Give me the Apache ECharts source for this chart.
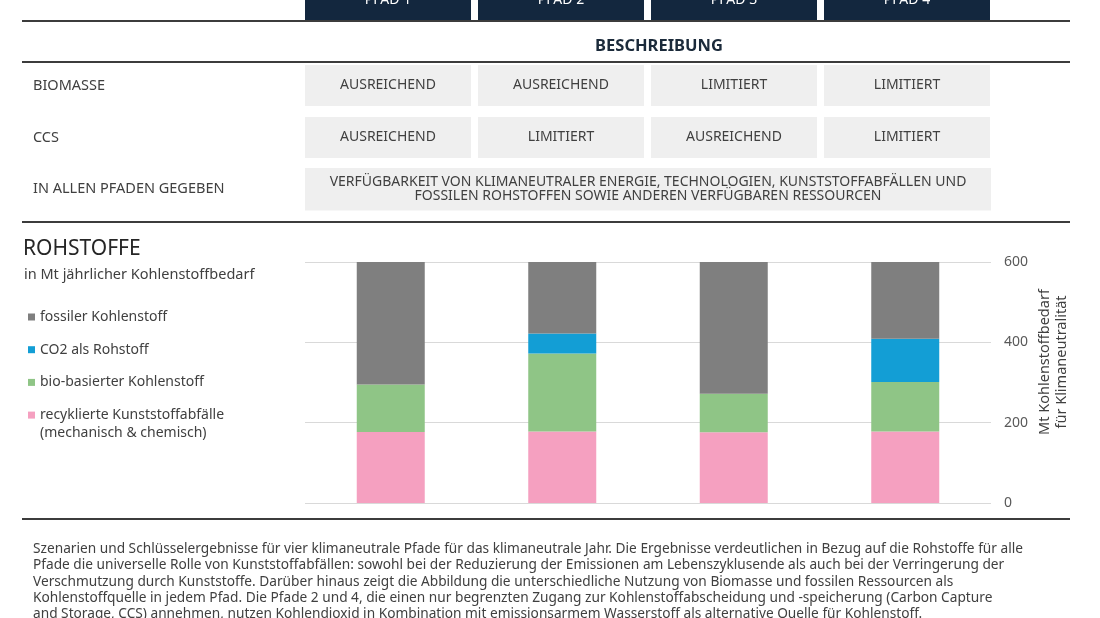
<!DOCTYPE html>
<html>
<head>
<meta charset="utf-8">
<script src="https://cdn.jsdelivr.net/npm/echarts@6/dist/echarts.min.js"></script>
<style>
  html, body { margin: 0; padding: 0; background: #fff; }
  #chart { width: 1100px; height: 618px; }
</style>
</head>
<body>
<div id="chart"></div>
<script>
// data
const pfade = ['PFAD 1', 'PFAD 2', 'PFAD 3', 'PFAD 4'];
const rowLabels = ['BIOMASSE', 'CCS', 'IN ALLEN PFADEN GEGEBEN'];
const biomasse = ['AUSREICHEND', 'AUSREICHEND', 'LIMITIERT', 'LIMITIERT'];
const ccs = ['AUSREICHEND', 'LIMITIERT', 'AUSREICHEND', 'LIMITIERT'];
const gegeben = 'VERFÜGBARKEIT VON KLIMANEUTRALER ENERGIE, TECHNOLOGIEN, KUNSTSTOFFABFÄLLEN UND\nFOSSILEN ROHSTOFFEN SOWIE ANDEREN VERFÜGBAREN RESSOURCEN';

const seriesNames = ['fossiler Kohlenstoff', 'CO2 als Rohstoff', 'bio-basierter Kohlenstoff', 'recyklierte Kunststoffabfälle\n(mechanisch & chemisch)'];
const recycled = [177, 178, 176, 178];
const bioBased = [118, 194, 96, 123];
const co2 = [0, 50, 0, 108];
const fossil = [308, 181, 331, 194];
const yTicks = [0, 200, 400, 600];

const caption = [
  'Szenarien und Schlüsselergebnisse für vier klimaneutrale Pfade für das klimaneutrale Jahr. Die Ergebnisse verdeutlichen in Bezug auf die Rohstoffe für alle',
  'Pfade die universelle Rolle von Kunststoffabfällen: sowohl bei der Reduzierung der Emissionen am Lebenszyklusende als auch bei der Verringerung der',
  'Verschmutzung durch Kunststoffe. Darüber hinaus zeigt die Abbildung die unterschiedliche Nutzung von Biomasse und fossilen Ressourcen als',
  'Kohlenstoffquelle in jedem Pfad. Die Pfade 2 und 4, die einen nur begrenzten Zugang zur Kohlenstoffabscheidung und -speicherung (Carbon Capture',
  'and Storage, CCS) annehmen, nutzen Kohlendioxid in Kombination mit emissionsarmem Wasserstoff als alternative Quelle für Kohlenstoff.'
];

const FONT = '"Noto Sans", sans-serif';
const TXT = '#404040';
const colX = [305, 478, 651, 824];
const colW = 166;

const chart = echarts.init(document.getElementById('chart'));

const graphic = [];
function hline(y) {
  graphic.push({ type: 'line', shape: { x1: 22, y1: y, x2: 1070, y2: y }, style: { stroke: '#3c3c3c', lineWidth: 2 } });
}
function label(text, x, y, opts) {
  graphic.push({
    type: 'text', x: x, y: y,
    style: Object.assign({
      text: text, fill: TXT, fontFamily: FONT, fontSize: 14,
      align: 'left', verticalAlign: 'middle', lineHeight: 14
    }, opts || {})
  });
}

// header boxes
pfade.forEach((p, i) => {
  graphic.push({ type: 'rect', shape: { x: colX[i], y: 0, width: colW, height: 20 }, style: { fill: '#13273e' } });
  label(p, colX[i] + colW / 2, 0, { fill: '#fff', align: 'center' });
});
hline(21);
label('BESCHREIBUNG', 659, 46, { fill: '#1b2a3a', fontWeight: 'bold', fontSize: 16.5, align: 'center' });
hline(62);

// table rows
const rowY = [65, 117, 168];
const rowH = [41, 41, 42.5];
[biomasse, ccs].forEach((row, r) => {
  row.forEach((v, i) => {
    graphic.push({ type: 'rect', shape: { x: colX[i], y: rowY[r], width: colW, height: rowH[r] }, style: { fill: '#efefef' } });
    label(v, colX[i] + colW / 2, rowY[r] + rowH[r] / 2, { align: 'center' });
  });
});
graphic.push({ type: 'rect', shape: { x: 305, y: rowY[2], width: 686, height: rowH[2] }, style: { fill: '#efefef' } });
label(gegeben, 648, 189, { align: 'center' });
rowLabels.forEach((t, r) => label(t, 33, rowY[r] + rowH[r] / 2, { fontSize: 14.5 }));
hline(222);

// chart titles
label('ROHSTOFFE', 23, 249, { fontSize: 21, fill: '#262626' });
label('in Mt jährlicher Kohlenstoffbedarf', 24, 275, { fontSize: 14.5 });
label(seriesNames[3].split('\n')[1], 40, 433);
graphic.push({
  type: 'text', x: 1053, y: 362, rotation: Math.PI / 2,
  style: {
    text: 'Mt Kohlenstoffbedarf\nfür Klimaneutralität', fill: TXT, fontFamily: FONT, fontSize: 14.5,
    align: 'center', verticalAlign: 'middle', lineHeight: 17
  }
});
hline(519);

// caption
label(caption.join('\n'), 33, 541, { verticalAlign: 'top', lineHeight: 16.3, fontSize: 13.7 });

const colors = ['#7f7f7f', '#139ed5', '#8fc586', '#f5a0c0'];

chart.setOption({
  animation: false,
  textStyle: { fontFamily: FONT },
  grid: { left: 305, right: 109, top: 262, bottom: 115 },
  legend: {
    orient: 'vertical', left: 28, top: 308, padding: 0,
    itemWidth: 7, itemHeight: 7, itemGap: 14.7, icon: 'rect',
    data: seriesNames,
    formatter: (name) => name.split('\n')[0],
    textStyle: { color: TXT, fontSize: 14, lineHeight: 18, fontFamily: FONT }
  },
  xAxis: {
    type: 'category', data: pfade,
    axisLine: { show: false }, axisTick: { show: false }, axisLabel: { show: false }
  },
  yAxis: {
    type: 'value', position: 'right', min: yTicks[0], max: yTicks[yTicks.length - 1], interval: 200,
    axisLine: { show: false }, axisTick: { show: false },
    axisLabel: { color: '#595959', fontSize: 14, margin: 13 },
    splitLine: { lineStyle: { color: '#d9d9d9', width: 1 } }
  },
  series: [
    { name: seriesNames[3], type: 'bar', stack: 'c', data: recycled, barWidth: 68, itemStyle: { color: colors[3] } },
    { name: seriesNames[2], type: 'bar', stack: 'c', data: bioBased, itemStyle: { color: colors[2] } },
    { name: seriesNames[1], type: 'bar', stack: 'c', data: co2, itemStyle: { color: colors[1] } },
    { name: seriesNames[0], type: 'bar', stack: 'c', data: fossil, itemStyle: { color: colors[0] } }
  ],
  graphic: graphic
});
</script>
</body>
</html>
